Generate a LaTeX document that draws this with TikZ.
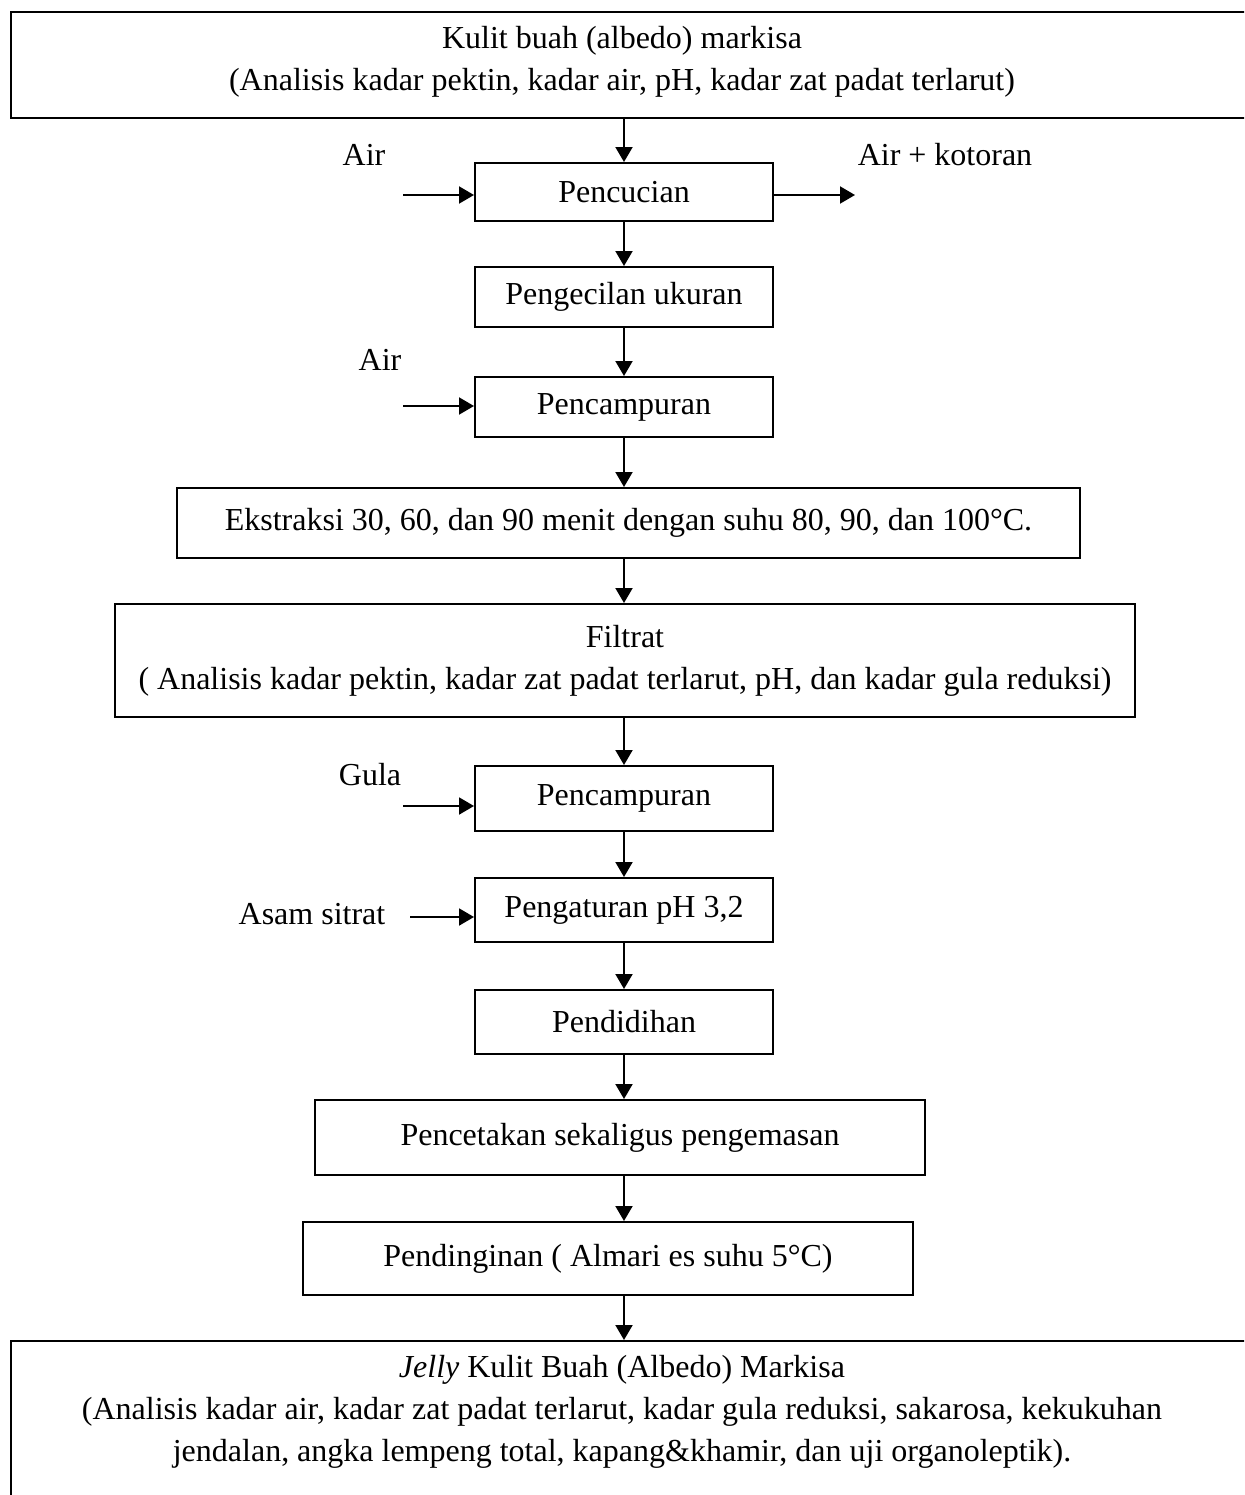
\documentclass[tikz,border=0pt]{standalone}
\usepackage{fontspec}
\setmainfont{Liberation Serif}
\usetikzlibrary{arrows.meta}
\begin{document}
\begin{tikzpicture}[x=0.5pt,y=-0.5pt,
  font=\fontsize{16}{21}\selectfont,
  box/.style={draw, line width=1pt, rectangle, inner sep=0pt, align=center},
  txt/.style={inner sep=0pt, align=center},
  arr/.style={line width=1pt, -{Triangle[length=7.5pt,width=8.5pt]}}]
\clip (0,0) rectangle (1244,1495);
\fill[white] (0,0) rectangle (1244,1495);
% top box
\node[box, minimum width=630pt, minimum height=53pt, anchor=north west] (top) at (10,11) {};
\node[txt] (toptxt) at (622,62) {Kulit buah (albedo) markisa\\(Analisis kadar pektin, kadar air, pH, kadar zat padat terlarut)};
% steps
\node[box, minimum width=149pt, minimum height=29pt] (p1) at (624,192) {Pencucian};
\node[box, minimum width=149pt, minimum height=30pt] (p2) at (624,297) {Pengecilan ukuran};
\node[box, minimum width=149pt, minimum height=30pt] (p3) at (624,407) {Pencampuran};
\node[box, minimum width=451.5pt, minimum height=35pt] (p4) at (628.5,523) {Ekstraksi 30, 60, dan 90 menit dengan suhu 80, 90, dan 100°C.};
\node[box, minimum width=510pt, minimum height=56.5pt] (p5) at (625,660.5) {Filtrat\\( Analisis kadar pektin, kadar zat padat terlarut, pH, dan kadar gula reduksi)};
\node[box, minimum width=149pt, minimum height=32.5pt] (p6) at (624,798.5) {Pencampuran};
\node[box, minimum width=149pt, minimum height=32pt] (p7) at (624,910) {Pengaturan pH 3,2};
\node[box, minimum width=149pt, minimum height=32pt] (p8) at (624,1022) {Pendidihan};
\node[box, minimum width=305pt, minimum height=37.5pt] (p9) at (620,1137.5) {Pencetakan sekaligus pengemasan};
\node[box, minimum width=305pt, minimum height=36.5pt] (p10) at (608,1258.5) {Pendinginan ( Almari es suhu 5°C)};
% bottom box
\node[box, minimum width=630pt, minimum height=90pt, anchor=north west] (bot) at (10,1340) {};
\node[txt, anchor=north] (bottxt) at (622,1355) {\textit{Jelly} Kulit Buah (Albedo) Markisa\\(Analisis kadar air, kadar zat padat terlarut, kadar gula reduksi, sakarosa, kekukuhan\\jendalan, angka lempeng total, kapang\&khamir, dan uji organoleptik).};
% main arrows
\draw[arr] (top.south -| p1.north) -- (p1.north);
\draw[arr] (p1) -- (p2);
\draw[arr] (p2) -- (p3);
\draw[arr] (p3.south) -- (p3.south |- p4.north);
\draw[arr] (p3.south |- p4.south) -- (p3.south |- p5.north);
\draw[arr] (p6.north |- p5.south) -- (p6.north);
\draw[arr] (p6) -- (p7);
\draw[arr] (p7) -- (p8);
\draw[arr] (p8.south) -- (p8.south |- p9.north);
\draw[arr] (p8.south |- p9.south) -- (p8.south |- p10.north);
\draw[arr] (p8.south |- p10.south) -- (p8.south |- bot.north);
% side inputs / outputs
\node[txt] (lair1) at (364,155) {Air};
\coordinate (in1) at (403,195);
\draw[arr] (in1) -- (in1 -| p1.west);
\node[txt] (lout) at (945,155) {Air + kotoran};
\coordinate (out1) at (855,195);
\draw[arr] (out1 -| p1.east) -- (out1);
\node[txt] (lair2) at (380,360) {Air};
\coordinate (in2) at (403,406);
\draw[arr] (in2) -- (in2 -| p3.west);
\node[txt] (lgula) at (370,775) {Gula};
\coordinate (in3) at (403,806);
\draw[arr] (in3) -- (in3 -| p6.west);
\node[txt] (lasam) at (312,914) {Asam sitrat};
\coordinate (in4) at (410,917);
\draw[arr] (in4) -- (in4 -| p7.west);
\end{tikzpicture}
\end{document}
